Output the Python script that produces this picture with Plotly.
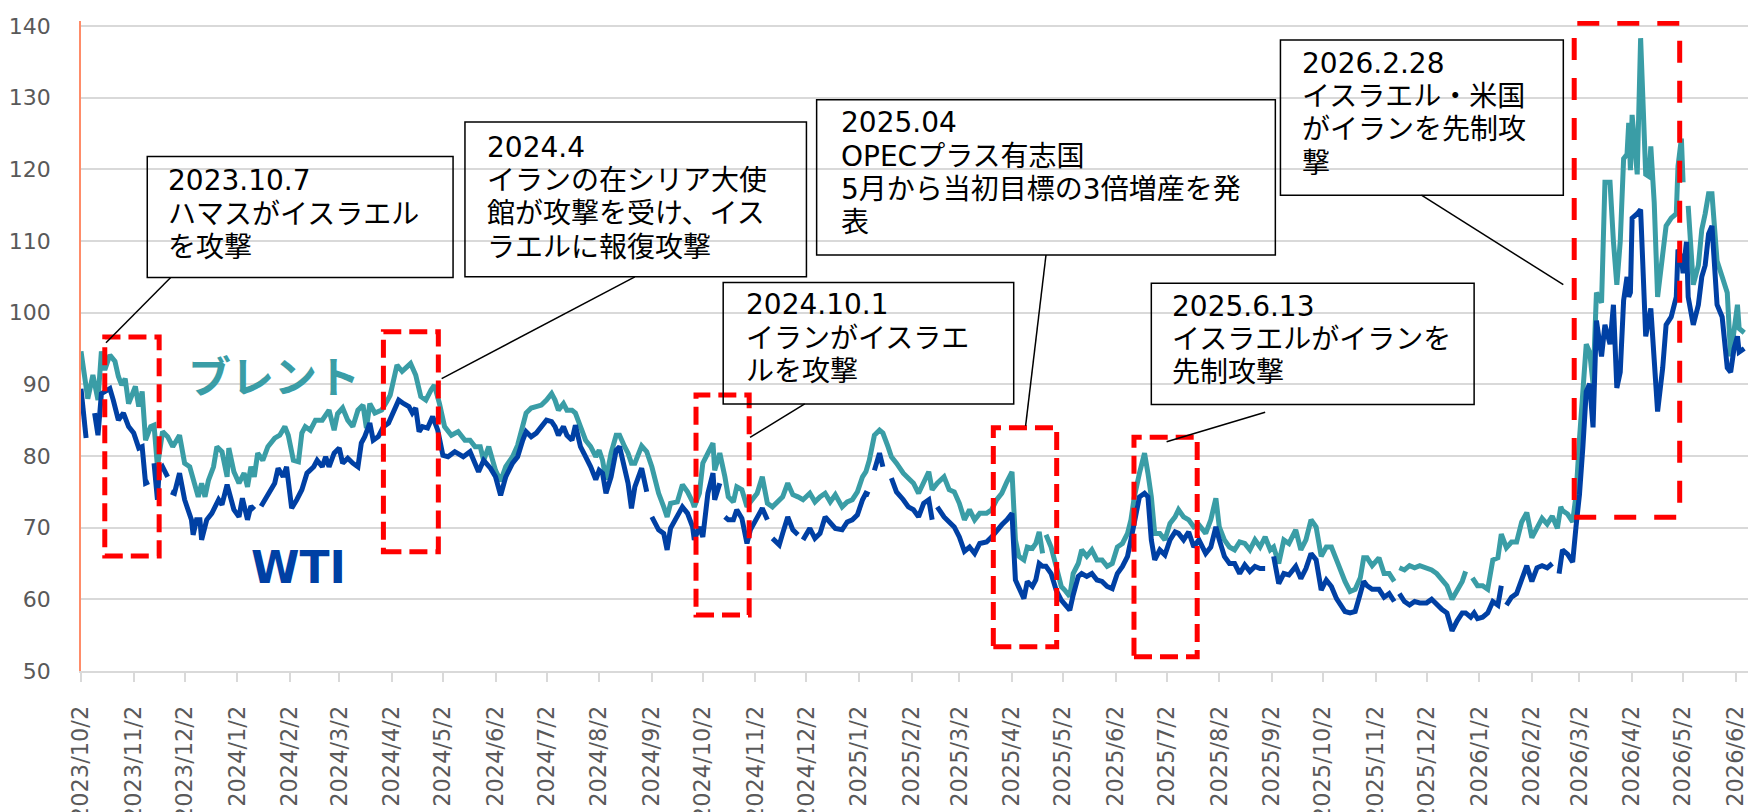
import pandas as pd
import plotly.graph_objects as go

# ---------------- data ----------------
BRENT_DATES = [
    "2023-10-02", "2023-10-06", "2023-10-09", "2023-10-12", "2023-10-14", "2023-10-16", "2023-10-19", "2023-10-22", "2023-10-24", "2023-10-26", "2023-10-28", "2023-10-30",
    "2023-11-03", "2023-11-05", "2023-11-07", "2023-11-09", "2023-11-12", "2023-11-14", "2023-11-16", "2023-11-19", "2023-11-22", "2023-11-25", "2023-11-29",
    "2023-12-02", "2023-12-05", "2023-12-08", "2023-12-10", "2023-12-12", "2023-12-14", "2023-12-16", "2023-12-19", "2023-12-21", "2023-12-24", "2023-12-27", "2023-12-28", "2023-12-31",
    "2024-01-03", "2024-01-06", "2024-01-08", "2024-01-10", "2024-01-12", "2024-01-14", "2024-01-17", "2024-01-20", "2024-01-24", "2024-01-27", "2024-01-30",
    "2024-02-01", "2024-02-04", "2024-02-07", "2024-02-09", "2024-02-11", "2024-02-14", "2024-02-17", "2024-02-21", "2024-02-25", "2024-02-28",
    "2024-03-01", "2024-03-04", "2024-03-07", "2024-03-10", "2024-03-13", "2024-03-16", "2024-03-18", "2024-03-20", "2024-03-23", "2024-03-27", "2024-03-30",
    "2024-04-01", "2024-04-05", "2024-04-08", "2024-04-13", "2024-04-16", "2024-04-19", "2024-04-22", "2024-04-25", "2024-04-27", "2024-04-30",
    "2024-05-03", "2024-05-07", "2024-05-11", "2024-05-15", "2024-05-18", "2024-05-21", "2024-05-24", "2024-05-26", "2024-05-29",
    "2024-06-02", "2024-06-05", "2024-06-08", "2024-06-12", "2024-06-15", "2024-06-18", "2024-06-20", "2024-06-23", "2024-06-26", "2024-06-29",
    "2024-07-02", "2024-07-05", "2024-07-07", "2024-07-09", "2024-07-12", "2024-07-14", "2024-07-17", "2024-07-19", "2024-07-22", "2024-07-25", "2024-07-28", "2024-07-31",
    "2024-08-02", "2024-08-04", "2024-08-06", "2024-08-09", "2024-08-12", "2024-08-14", "2024-08-17", "2024-08-19", "2024-08-21", "2024-08-23", "2024-08-27", "2024-08-30",
    "2024-09-02", "2024-09-06", "2024-09-09", "2024-09-11", "2024-09-13", "2024-09-17", "2024-09-20", "2024-09-23", "2024-09-26", "2024-09-27", "2024-09-30",
    "2024-10-02", "2024-10-05", "2024-10-08", "2024-10-09", "2024-10-12", "2024-10-15", "2024-10-17", "2024-10-20", "2024-10-22", "2024-10-25", "2024-10-28", "2024-10-30",
    "2024-11-03", "2024-11-06", "2024-11-09", "2024-11-12", "2024-11-16", "2024-11-18", "2024-11-21", "2024-11-24", "2024-11-27", "2024-11-30",
    "2024-12-04", "2024-12-07", "2024-12-10", "2024-12-13", "2024-12-16", "2024-12-19", "2024-12-23", "2024-12-26", "2024-12-29",
    "2025-01-01", "2025-01-04", "2025-01-06", "2025-01-08", "2025-01-11", "2025-01-14", "2025-01-16", "2025-01-19", "2025-01-21", "2025-01-24", "2025-01-28", "2025-01-31",
    "2025-02-03", "2025-02-06", "2025-02-09", "2025-02-12", "2025-02-14", "2025-02-17", "2025-02-21", "2025-02-24", "2025-02-27",
    "2025-03-02", "2025-03-05", "2025-03-08", "2025-03-11", "2025-03-14", "2025-03-18", "2025-03-21", "2025-03-24", "2025-03-27", "2025-03-30",
    "2025-04-02", "2025-04-04", "2025-04-06", "2025-04-09", "2025-04-11", "2025-04-14", "2025-04-16", "2025-04-18", "2025-04-20", "2025-04-21", "2025-04-22", "2025-04-25", "2025-04-28",
    "2025-05-01", "2025-05-03", "2025-05-06", "2025-05-08", "2025-05-11", "2025-05-13", "2025-05-16", "2025-05-19", "2025-05-22", "2025-05-25", "2025-05-28", "2025-05-31",
    "2025-06-03", "2025-06-06", "2025-06-09", "2025-06-11", "2025-06-13", "2025-06-16", "2025-06-19", "2025-06-21", "2025-06-23", "2025-06-25", "2025-06-28",
    "2025-07-01", "2025-07-04", "2025-07-07", "2025-07-09", "2025-07-12", "2025-07-15", "2025-07-18", "2025-07-21", "2025-07-25", "2025-07-28", "2025-07-31",
    "2025-08-02", "2025-08-05", "2025-08-08", "2025-08-11", "2025-08-14", "2025-08-17", "2025-08-20", "2025-08-23", "2025-08-26", "2025-08-29",
    "2025-09-01", "2025-09-03", "2025-09-06", "2025-09-09", "2025-09-12", "2025-09-16", "2025-09-19", "2025-09-22", "2025-09-25", "2025-09-28",
    "2025-10-01", "2025-10-04", "2025-10-07", "2025-10-10", "2025-10-13", "2025-10-15", "2025-10-18", "2025-10-21", "2025-10-24", "2025-10-26", "2025-10-28", "2025-10-31",
    "2025-11-04", "2025-11-07", "2025-11-10", "2025-11-13", "2025-11-15", "2025-11-16", "2025-11-19", "2025-11-22", "2025-11-25", "2025-11-28",
    "2025-12-02", "2025-12-05", "2025-12-08", "2025-12-11", "2025-12-14", "2025-12-17", "2025-12-20", "2025-12-23", "2025-12-25", "2025-12-27", "2025-12-29",
    "2026-01-01", "2026-01-04", "2026-01-07", "2026-01-10", "2026-01-13", "2026-01-15", "2026-01-18", "2026-01-21", "2026-01-24", "2026-01-27", "2026-01-30",
    "2026-02-02", "2026-02-05", "2026-02-08", "2026-02-11", "2026-02-14", "2026-02-17", "2026-02-19", "2026-02-20", "2026-02-23", "2026-02-26", "2026-02-28",
    "2026-03-02", "2026-03-04", "2026-03-06", "2026-03-08", "2026-03-10", "2026-03-12", "2026-03-15", "2026-03-17", "2026-03-20", "2026-03-22", "2026-03-24", "2026-03-26", "2026-03-28", "2026-03-30", "2026-03-31",
    "2026-04-01", "2026-04-02", "2026-04-05", "2026-04-07", "2026-04-10", "2026-04-12", "2026-04-13", "2026-04-15", "2026-04-17", "2026-04-20", "2026-04-22", "2026-04-25", "2026-04-28", "2026-04-29",
    "2026-05-01", "2026-05-02", "2026-05-03", "2026-05-05", "2026-05-08", "2026-05-11", "2026-05-13", "2026-05-15", "2026-05-17", "2026-05-19", "2026-05-22", "2026-05-25", "2026-05-28", "2026-05-30",
    "2026-06-01", "2026-06-03", "2026-06-04", "2026-06-07",
]
BRENT_PRICES = [
    94.6, 88.0, 91.3, 87.8, 94.6, 92.0, 94.1, 93.2, 91.1, 89.9, 90.8, 87.3,
    89.7, 86.9, 89.0, 82.2, 84.1, 84.3, 78.5, 83.4, 82.7, 81.3, 82.9,
    79.0, 78.5, 76.2, 74.3, 76.2, 74.3, 76.6, 78.5, 81.3, 80.6, 77.1, 81.1, 77.8,
    76.2, 77.6, 75.7, 78.5, 77.1, 80.4, 79.4, 81.3, 82.5, 82.9, 84.1,
    82.9, 79.4, 79.2, 83.2, 84.1, 83.6, 85.0, 85.0, 86.4, 83.6,
    85.9, 86.7, 85.0, 84.1, 86.4, 87.1, 83.9, 87.3, 86.0, 86.4, 87.6,
    88.5, 92.7, 91.8, 92.9, 91.3, 88.3, 87.8, 89.2, 89.9, 87.3,
    84.1, 82.9, 83.4, 82.2, 82.2, 81.3, 81.3, 79.4, 81.3,
    78.0, 76.5, 78.5, 79.9, 81.5, 84.1, 86.0, 86.7, 86.9, 87.1,
    87.8, 88.7, 87.8, 86.4, 87.3, 86.4, 86.4, 86.0, 84.1, 82.2, 81.3, 79.9,
    80.8, 79.4, 76.7, 80.4, 82.9, 82.9, 81.3, 80.4, 79.0, 79.0, 81.4, 80.6,
    78.5, 74.8, 72.9, 71.5, 73.4, 73.6, 76.0, 75.0, 73.6, 72.9, 74.8,
    79.0, 80.4, 81.8, 78.0, 80.4, 77.1, 74.3, 73.6, 75.7, 75.3, 72.9, 73.6,
    74.8, 77.1, 73.4, 72.9, 73.9, 74.3, 76.2, 74.6, 74.3, 73.9,
    74.8, 73.6, 74.3, 74.8, 73.6, 74.6, 72.9, 73.6, 73.9,
    75.0, 77.1, 77.8, 79.4, 82.9, 83.6, 83.2, 81.3, 79.9, 79.0, 77.6, 76.9,
    76.2, 74.8, 76.4, 77.8, 75.3, 76.2, 77.1, 75.3, 75.0,
    73.4, 71.1, 72.5, 71.1, 72.0, 72.0, 72.5, 73.9, 74.8, 76.4,
    77.8, 68.3, 66.0, 65.5, 67.3, 67.1, 67.8, 69.4, 66.4, None, 69.0, 67.3, 64.6,
    61.8, 61.3, 60.4, 63.6, 65.0, 66.9, 66.0, 66.9, 65.5, 65.5, 64.6, 65.0,
    67.3, 67.8, 69.2, 71.1, 74.3, 77.6, 80.4, 77.6, 74.3, 69.2, 69.2,
    68.3, 70.6, 71.5, 72.5, 71.5, 71.1, 70.1, 70.4, 69.2, 71.1, 74.1,
    70.1, 68.3, 67.3, 66.9, 68.0, 67.8, 66.9, 68.3, 67.3, 68.7,
    66.9, 67.3, 65.0, 68.3, 67.8, 69.7, 66.9, 68.3, 71.1, 70.1,
    66.0, 67.3, 67.3, 65.5, 63.6, 62.5, 61.1, 61.4, 63.0, 65.8, 65.8, 64.7,
    65.8, 63.6, 63.6, 62.5, None, 64.4, 64.1, 64.7, 64.4, 64.7,
    64.4, 64.1, 63.6, 62.8, 61.9, 60.0, 61.4, 62.5, 63.9, None, 63.0,
    61.9, 61.9, 61.4, 65.5, 65.8, 69.1, 67.2, 68.0, 68.0, 70.8, 72.1,
    68.6, 69.9, 71.3, 70.5, 71.6, 69.9, 72.9, 72.4, 71.9, 70.8, 74.6,
    82.3, 89.5, 95.6, 94.5, 90.1, 102.8, 101.4, 118.2, 118.2, 109.9, 103.9, 109.9, 121.5, 122.1, 126.5,
    119.9, 127.6, 119.3, 138.3, 119.3, 119.0, 123.2, 115.4, 102.2, 107.7, 112.1, 113.2, 113.8, 120.4,
    124.3, 118.2, None, 114.9, 103.9, 106.6, 111.6, 113.8, 116.6, 116.6, 107.2, 105.0, 102.8, 93.9,
    98.3, 101.1, 97.8, 97.2,
]

WTI_DATES = [
    "2023-10-02", "2023-10-05", "2023-10-07", "2023-10-10", "2023-10-12", "2023-10-14", "2023-10-19", "2023-10-21", "2023-10-24", "2023-10-27", "2023-10-30",
    "2023-11-02", "2023-11-05", "2023-11-07", "2023-11-09", "2023-11-11", "2023-11-13", "2023-11-14", "2023-11-16", "2023-11-17", "2023-11-19", "2023-11-22", "2023-11-23", "2023-11-24", "2023-11-26", "2023-11-29",
    "2023-12-02", "2023-12-04", "2023-12-06", "2023-12-07", "2023-12-09", "2023-12-11", "2023-12-12", "2023-12-15", "2023-12-18", "2023-12-22", "2023-12-24", "2023-12-27", "2023-12-29", "2023-12-31",
    "2024-01-03", "2024-01-05", "2024-01-08", "2024-01-10", "2024-01-12", "2024-01-14", "2024-01-16", "2024-01-19", "2024-01-22", "2024-01-24", "2024-01-26", "2024-01-29", "2024-01-31",
    "2024-02-03", "2024-02-06", "2024-02-09", "2024-02-12", "2024-02-16", "2024-02-18", "2024-02-21", "2024-02-23", "2024-02-25", "2024-02-28",
    "2024-03-02", "2024-03-04", "2024-03-07", "2024-03-10", "2024-03-13", "2024-03-15", "2024-03-17", "2024-03-20", "2024-03-22", "2024-03-25", "2024-03-28", "2024-03-31",
    "2024-04-03", "2024-04-06", "2024-04-09", "2024-04-12", "2024-04-14", "2024-04-16", "2024-04-18", "2024-04-20", "2024-04-23", "2024-04-26", "2024-04-29",
    "2024-05-02", "2024-05-05", "2024-05-09", "2024-05-14", "2024-05-18", "2024-05-23", "2024-05-26", "2024-05-30",
    "2024-06-02", "2024-06-05", "2024-06-08", "2024-06-12", "2024-06-15", "2024-06-18", "2024-06-20", "2024-06-23", "2024-06-26", "2024-06-29",
    "2024-07-02", "2024-07-05", "2024-07-07", "2024-07-09", "2024-07-12", "2024-07-14", "2024-07-17", "2024-07-19", "2024-07-22", "2024-07-25", "2024-07-28", "2024-07-31",
    "2024-08-02", "2024-08-04", "2024-08-06", "2024-08-09", "2024-08-12", "2024-08-14", "2024-08-17", "2024-08-19", "2024-08-21", "2024-08-23", "2024-08-27", "2024-08-30", "2024-08-31",
    "2024-09-02", "2024-09-06", "2024-09-09", "2024-09-11", "2024-09-13", "2024-09-17", "2024-09-20", "2024-09-23", "2024-09-26", "2024-09-27", "2024-09-30",
    "2024-10-02", "2024-10-05", "2024-10-08", "2024-10-09", "2024-10-12", "2024-10-14", "2024-10-15", "2024-10-17", "2024-10-20", "2024-10-22", "2024-10-25", "2024-10-28", "2024-10-30",
    "2024-11-03", "2024-11-06", "2024-11-09", "2024-11-10", "2024-11-12", "2024-11-16", "2024-11-18", "2024-11-21", "2024-11-24", "2024-11-27", "2024-11-28", "2024-11-30",
    "2024-12-04", "2024-12-07", "2024-12-10", "2024-12-13", "2024-12-16", "2024-12-19", "2024-12-23", "2024-12-26", "2024-12-29",
    "2025-01-01", "2025-01-04", "2025-01-06", "2025-01-08", "2025-01-10", "2025-01-11", "2025-01-14", "2025-01-16", "2025-01-18", "2025-01-21", "2025-01-24", "2025-01-28", "2025-01-31",
    "2025-02-03", "2025-02-06", "2025-02-09", "2025-02-12", "2025-02-14", "2025-02-15", "2025-02-17", "2025-02-21", "2025-02-24", "2025-02-27",
    "2025-03-02", "2025-03-05", "2025-03-08", "2025-03-11", "2025-03-14", "2025-03-18", "2025-03-21", "2025-03-24", "2025-03-27", "2025-03-30",
    "2025-04-02", "2025-04-04", "2025-04-06", "2025-04-09", "2025-04-11", "2025-04-14", "2025-04-16", "2025-04-18", "2025-04-20", "2025-04-22", "2025-04-25", "2025-04-28",
    "2025-05-01", "2025-05-03", "2025-05-06", "2025-05-08", "2025-05-11", "2025-05-13", "2025-05-16", "2025-05-19", "2025-05-22", "2025-05-25", "2025-05-28", "2025-05-31",
    "2025-06-03", "2025-06-06", "2025-06-09", "2025-06-11", "2025-06-13", "2025-06-16", "2025-06-19", "2025-06-21", "2025-06-23", "2025-06-25", "2025-06-28",
    "2025-07-01", "2025-07-04", "2025-07-07", "2025-07-09", "2025-07-12", "2025-07-15", "2025-07-18", "2025-07-21", "2025-07-25", "2025-07-28", "2025-07-31",
    "2025-08-02", "2025-08-05", "2025-08-08", "2025-08-11", "2025-08-14", "2025-08-17", "2025-08-20", "2025-08-23", "2025-08-26", "2025-08-29", "2025-08-31",
    "2025-09-03", "2025-09-06", "2025-09-09", "2025-09-12", "2025-09-16", "2025-09-19", "2025-09-22", "2025-09-25", "2025-09-28",
    "2025-10-01", "2025-10-04", "2025-10-07", "2025-10-10", "2025-10-13", "2025-10-15", "2025-10-18", "2025-10-21", "2025-10-24", "2025-10-26", "2025-10-28", "2025-10-31",
    "2025-11-04", "2025-11-07", "2025-11-10", "2025-11-13", "2025-11-15", "2025-11-16", "2025-11-19", "2025-11-22", "2025-11-25", "2025-11-28",
    "2025-12-02", "2025-12-05", "2025-12-08", "2025-12-11", "2025-12-14", "2025-12-17", "2025-12-20", "2025-12-23", "2025-12-25", "2025-12-28", "2025-12-30",
    "2026-01-01", "2026-01-04", "2026-01-07", "2026-01-10", "2026-01-13", "2026-01-15", "2026-01-17", "2026-01-18", "2026-01-21", "2026-01-24", "2026-01-27", "2026-01-30",
    "2026-02-02", "2026-02-05", "2026-02-08", "2026-02-11", "2026-02-14", "2026-02-16", "2026-02-18", "2026-02-20", "2026-02-23", "2026-02-26", "2026-02-28",
    "2026-03-02", "2026-03-04", "2026-03-06", "2026-03-08", "2026-03-10", "2026-03-12", "2026-03-15", "2026-03-17", "2026-03-20", "2026-03-22", "2026-03-24", "2026-03-26", "2026-03-28", "2026-03-30", "2026-03-31",
    "2026-04-01", "2026-04-02", "2026-04-05", "2026-04-07", "2026-04-10", "2026-04-12", "2026-04-13", "2026-04-15", "2026-04-17", "2026-04-20", "2026-04-22", "2026-04-25", "2026-04-28", "2026-04-29",
    "2026-05-01", "2026-05-02", "2026-05-04", "2026-05-05", "2026-05-08", "2026-05-11", "2026-05-13", "2026-05-15", "2026-05-17", "2026-05-19", "2026-05-22", "2026-05-25", "2026-05-28", "2026-05-30",
    "2026-06-01", "2026-06-03", "2026-06-04", "2026-06-07",
]
WTI_PRICES = [
    89.4, 82.5, None, 86.0, 82.9, 88.7, 89.4, 87.8, 85.0, 86.0, 84.1,
    83.2, 81.1, 81.3, 76.2, 76.4, None, 79.0, 73.9, 78.0, 78.5, 77.1, None, 75.0, 74.8, 77.6,
    73.9, 72.5, 71.1, 69.0, 71.1, 71.1, 68.3, 71.1, 72.0, 73.9, 73.2, 76.0, 73.9, 72.5,
    71.5, 74.1, 71.1, 73.0, 72.5, None, 73.0, 74.3, 75.3, 76.2, 78.3, 77.1, 78.5,
    72.7, 73.9, 75.3, 77.6, 78.5, 79.4, 78.5, 79.9, 78.5, 80.4,
    81.1, 79.0, 79.7, 79.0, 78.5, 81.8, 82.7, 84.6, 82.2, 82.7, 84.1, 84.6,
    86.2, 87.8, 87.3, 86.9, 86.0, 86.7, 83.4, 84.1, 83.9, 85.5, 83.6,
    80.1, 79.9, 80.6, 79.9, 80.6, 77.8, 79.4, 78.3,
    77.1, 74.5, 77.1, 79.0, 79.9, 82.2, 83.4, 82.7, 83.2, 84.1,
    85.0, 84.8, 84.1, 82.9, 84.1, 82.9, 82.2, 84.3, 81.3, 79.9, 78.5, 76.7,
    78.0, 77.6, 74.8, 77.1, 80.8, 81.3, 78.0, 76.2, 72.7, 75.7, 78.3, 75.0, None,
    71.5, 69.7, 69.2, 66.9, 69.9, 71.5, 72.9, 72.0, 70.1, 68.3, 70.1,
    68.7, 74.8, 77.6, 73.9, 76.2, None, 71.5, 71.1, 71.1, 72.5, 71.3, 67.8, 69.7,
    71.5, 72.7, 71.1, None, 68.5, 67.6, 69.2, 71.5, 69.7, 69.0, None, 68.3,
    69.9, 68.5, 69.2, 71.5, 70.6, 69.9, 69.7, 70.8, 71.1,
    71.8, 73.9, 74.8, 74.6, None, 78.0, 80.4, 78.5, None, 76.9, 75.0, 73.9, 72.9,
    72.5, 71.5, 73.4, 73.9, 71.1, None, 72.9, 71.5, 70.8, 70.1,
    68.7, 66.7, 67.3, 66.4, 67.8, 68.0, 68.7, 69.7, 70.4, 71.1,
    72.0, 62.7, 61.8, 60.1, 62.5, 61.8, 62.7, 65.0, 64.6, 64.6, 63.6, 61.3,
    59.9, 59.4, 58.5, 60.6, 63.2, 63.6, 63.2, 63.6, 62.7, 62.5, 61.8, 61.5,
    63.6, 64.6, 66.0, 68.3, 71.1, 74.3, 74.8, 74.3, 68.3, 65.5, 66.9,
    66.2, 68.3, 69.4, 69.2, 68.3, 69.4, 67.3, 68.3, 66.4, 67.3, 70.1,
    68.3, 66.0, 65.0, 65.0, 63.6, 64.8, 63.9, 64.6, 64.3, 64.3, None,
    66.0, 62.2, 63.6, 63.4, 64.6, 62.9, 64.3, 66.4, 65.5,
    61.3, 62.7, 61.8, 60.1, 59.0, 58.3, 58.1, 58.3, 60.8, 62.5, 61.9, 61.4,
    61.4, 60.3, 60.8, 59.7, None, 60.8, 59.7, 59.2, 59.7, 59.5,
    59.5, 60.0, 59.2, 58.6, 58.1, 55.6, 57.0, 58.1, 58.1, 57.5, 58.1,
    57.3, 57.5, 58.1, 59.7, 59.2, 61.9, None, 59.2, 60.3, 60.8, 63.0, 64.7,
    62.5, 64.4, 64.7, 64.4, 65.0, None, 63.6, 66.9, 66.3, 65.2, 70.2,
    74.6, 81.2, 89.0, 90.1, 84.0, 98.9, 93.9, 98.3, 95.6, 101.1, 89.5, 91.7, 101.7, 105.0, 102.2,
    102.8, 113.2, 113.8, 114.4, 96.7, 99.4, 100.6, 93.4, 86.2, 92.3, 98.3, 99.4, 102.2, 108.8,
    107.7, 105.5, 109.9, 102.2, 98.3, 101.1, 105.0, 106.6, 111.0, 112.1, 101.1, 99.4, 92.3, 91.7,
    95.0, 96.7, 94.5, 95.0,
]

TICK_LABELS = [
    "2023/10/2", "2023/11/2", "2023/12/2", "2024/1/2", "2024/2/2", "2024/3/2", "2024/4/2",
    "2024/5/2", "2024/6/2", "2024/7/2", "2024/8/2", "2024/9/2", "2024/10/2", "2024/11/2",
    "2024/12/2", "2025/1/2", "2025/2/2", "2025/3/2", "2025/4/2", "2025/5/2", "2025/6/2",
    "2025/7/2", "2025/8/2", "2025/9/2", "2025/10/2", "2025/11/2", "2025/12/2", "2026/1/2",
    "2026/2/2", "2026/3/2", "2026/4/2", "2026/5/2", "2026/6/2",
]

SERIES_NAMES = ["ブレント", "WTI"]

# event windows (red dashed frames): x0, x1, y0, y1
EVENT_WINDOWS = [
    ("2023-10-16", "2023-11-17", 66.05, 96.6),
    ("2024-03-28", "2024-04-29T08:00", 66.65, 97.35),
    ("2024-09-28", "2024-10-29T07:00", 57.8, 88.5),
    ("2025-03-22", "2025-04-28T07:00", 53.4, 83.95),
    ("2025-06-12T19:00", "2025-07-20", 52.0, 82.6),
    ("2026-02-26T22:00", "2026-04-30", 71.45, 140.4),
]

# callout texts
CALLOUT_TEXTS = [
    ["2023.10.7", "ハマスがイスラエル", "を攻撃"],
    ["2024.4", "イランの在シリア大使", "館が攻撃を受け、イス", "ラエルに報復攻撃"],
    ["2025.04", "OPECプラス有志国", "5月から当初目標の3倍増産を発", "表"],
    ["2024.10.1", "イランがイスラエ", "ルを攻撃"],
    ["2025.6.13", "イスラエルがイランを", "先制攻撃"],
    ["2026.2.28", "イスラエル・米国", "がイランを先制攻", "撃"],
]

# ---------------- layout / style (positions) ----------------
TEAL = "#3A9DA6"
NAVY = "#0040A4"
RED = "#FF0000"
GRID = "#D9D9D9"
LABEL_GRAY = "#595959"
FONT = "DejaVu Sans, Noto Sans CJK JP"

X_RANGE = ["2023-10-02", "2026-06-09T05:00"]
Y_RANGE = [50, 140.7]
LINE_PITCH = 4.646  # vertical distance between text lines, in axis units

# callout frames: box (x0, x1, y0, y1), text anchor (x, first line y), leader line
CALLOUT_LAYOUT = [
    dict(box=("2023-11-10", "2024-05-08", 104.9, 121.8), text=("2023-11-21", 118.4),
         lead=(("2023-11-23T19:00", 104.9), ("2023-10-16T17:00", 95.8))),
    dict(box=("2024-05-15", "2024-12-02", 105.0, 126.6), text=("2024-05-27", 123.1),
         lead=(("2024-08-23", 105.0), ("2024-05-01T07:00", 90.8))),
    dict(box=("2024-12-08", "2025-09-04", 108.05, 129.7), text=("2024-12-21", 126.5),
         lead=(("2025-04-22", 108.05), ("2025-04-10", 84.2))),
    dict(box=("2024-10-14", "2025-04-03", 87.26, 104.2), text=("2024-10-26", 101.1),
         lead=(("2024-12-01", 87.26), ("2024-10-29T19:00", 82.6))),
    dict(box=("2025-06-23", "2025-12-30", 87.2, 104.1), text=("2025-07-04", 100.9),
         lead=(("2025-08-29", 86.1), ("2025-07-02", 82.0))),
    dict(box=("2025-09-07", "2026-02-20T12:00", 116.4, 138.05), text=("2025-09-18T12:00", 134.8),
         lead=(("2025-11-29", 116.4), ("2026-02-20T12:00", 103.9))),
]

# ---------------- figure ----------------
fig = go.Figure()
fig.add_trace(go.Scatter(
    x=BRENT_DATES, y=BRENT_PRICES, mode="lines", name=SERIES_NAMES[0],
    line=dict(color=TEAL, width=5), connectgaps=False,
))
fig.add_trace(go.Scatter(
    x=WTI_DATES, y=WTI_PRICES, mode="lines", name=SERIES_NAMES[1],
    line=dict(color=NAVY, width=5), connectgaps=False,
))

tickvals = [pd.to_datetime(t, format="%Y/%m/%d") for t in TICK_LABELS]

shapes = []
for i, (x0, x1, y0, y1) in enumerate(EVENT_WINDOWS):
    dash = "22px,18px" if i == len(EVENT_WINDOWS) - 1 else "18px,8px"
    shapes.append(dict(type="rect", xref="x", yref="y", x0=x0, x1=x1, y0=y0, y1=y1,
                       line=dict(color=RED, width=5, dash=dash), fillcolor="rgba(0,0,0,0)"))

annotations = []
for texts, lay in zip(CALLOUT_TEXTS, CALLOUT_LAYOUT):
    bx0, bx1, by0, by1 = lay["box"]
    shapes.append(dict(type="rect", xref="x", yref="y", x0=bx0, x1=bx1, y0=by0, y1=by1,
                       line=dict(color="#000000", width=1.5), fillcolor="rgba(0,0,0,0)"))
    (lx0, ly0), (lx1, ly1) = lay["lead"]
    shapes.append(dict(type="line", xref="x", yref="y", x0=lx0, y0=ly0, x1=lx1, y1=ly1,
                       line=dict(color="#000000", width=1.5)))
    tx, ty = lay["text"]
    for k, line in enumerate(texts):
        annotations.append(dict(
            x=tx, y=ty - k * LINE_PITCH, xref="x", yref="y", text=line,
            showarrow=False, xanchor="left", yanchor="middle",
            font=dict(family=FONT, size=28, color="#000000"),
        ))

annotations.append(dict(
    x="2024-01-23T14:00", y=91.5, xref="x", yref="y", text=SERIES_NAMES[0], showarrow=False,
    xanchor="center", yanchor="middle",
    font=dict(family="Noto Sans CJK JP", size=43, color=TEAL, weight=700),
))
annotations.append(dict(
    x="2024-02-07T07:00", y=64.45, xref="x", yref="y", text=SERIES_NAMES[1], showarrow=False,
    xanchor="center", yanchor="middle",
    font=dict(family="DejaVu Sans", size=44, color=NAVY, weight=700),
))

fig.update_layout(
    width=1748, height=812,
    margin=dict(l=81, r=0, t=21, b=141, autoexpand=False),
    paper_bgcolor="white", plot_bgcolor="white",
    showlegend=False,
    font=dict(family=FONT, color=LABEL_GRAY),
    shapes=shapes,
    annotations=annotations,
    xaxis=dict(
        type="date", range=X_RANGE, tickmode="array", tickvals=tickvals, ticktext=TICK_LABELS,
        tickangle=-90, ticks="outside", ticklen=9, tickwidth=1.5, tickcolor=GRID,
        showgrid=False, zeroline=False, showline=True, linecolor=GRID, linewidth=1.5,
        tickfont=dict(family="DejaVu Sans", size=22.5, color=LABEL_GRAY),
        automargin=False, ticklabelstandoff=15, ticklabeloverflow="allow",
    ),
    yaxis=dict(
        range=Y_RANGE, tick0=50, dtick=10, showgrid=True, gridcolor=GRID, gridwidth=1.5,
        zeroline=False, showline=True, linecolor="#FF8C69", linewidth=1.5, ticks="",
        tickfont=dict(family="DejaVu Sans", size=22, color=LABEL_GRAY),
        automargin=False, ticklabelstandoff=24,
    ),
)

fig.write_html(
    "out.html",
    config={"displayModeBar": False},
    post_script="document.body.style.margin='0';document.body.style.overflow='hidden';",
)
